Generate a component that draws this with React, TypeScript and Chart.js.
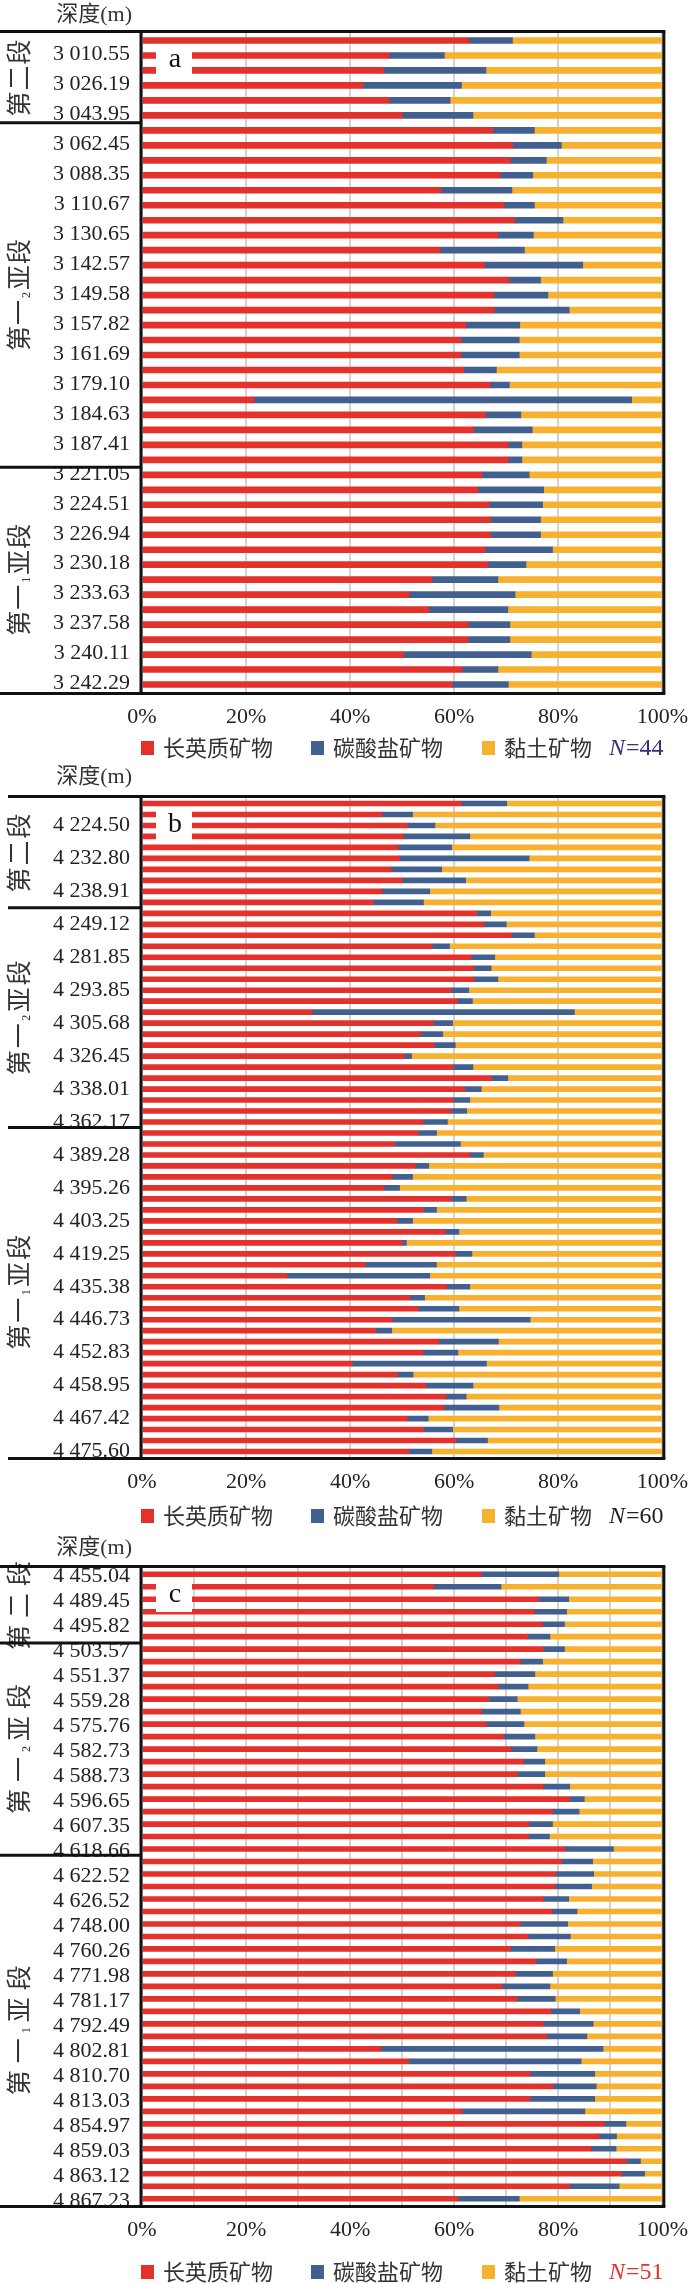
import React, { useEffect, useRef } from 'react';
import { Chart, registerables } from 'chart.js';

Chart.register(...registerables);

// ---------- shared ----------
const SERIES_NAMES = ['长英质矿物', '碳酸盐矿物', '黏土矿物'];
const SERIES_COLORS = ['#e5312b', '#41608f', '#f8b12f'];
const DEPTH_TITLE = '深度(m)';

// ---------- panel a ----------
const DEPTHS_A = ['3 010.55', '3 026.19', '3 043.95', '3 062.45', '3 088.35', '3 110.67', '3 130.65', '3 142.57', '3 149.58', '3 157.82', '3 161.69', '3 179.10', '3 184.63', '3 187.41', '3 221.05', '3 224.51', '3 226.94', '3 230.18', '3 233.63', '3 237.58', '3 240.11', '3 242.29'];
const FELSIC_A = [62.8, 47.5, 46.4, 42.5, 47.5, 50.0, 67.4, 71.2, 70.8, 68.8, 57.4, 69.6, 71.6, 68.4, 57.3, 65.8, 70.5, 67.6, 67.7, 62.2, 61.3, 61.3, 61.8, 66.9, 21.5, 66.0, 63.7, 70.4, 70.4, 65.3, 64.5, 66.7, 67.0, 67.0, 65.9, 66.5, 55.7, 51.3, 55.1, 62.7, 62.7, 50.3, 61.5, 59.6];
const CARB_A = [8.4, 10.6, 19.7, 18.9, 11.7, 13.6, 8.0, 9.4, 6.9, 6.3, 13.7, 5.8, 9.3, 6.8, 16.2, 18.9, 6.1, 10.4, 14.4, 10.4, 11.2, 11.2, 6.3, 3.7, 72.6, 6.8, 11.3, 2.6, 2.6, 9.1, 12.7, 10.3, 9.6, 9.6, 13.0, 7.3, 12.7, 20.4, 15.2, 8.0, 8.0, 24.5, 6.9, 10.8];
const CLAY_A = [28.8, 41.9, 33.9, 38.6, 40.8, 36.4, 24.6, 19.4, 22.3, 24.9, 28.9, 24.6, 19.1, 24.8, 26.5, 15.3, 23.4, 22.0, 17.9, 27.4, 27.5, 27.5, 31.9, 29.4, 5.9, 27.2, 25.0, 27.0, 27.0, 25.6, 22.8, 23.0, 23.4, 23.4, 21.1, 26.2, 31.6, 28.3, 29.7, 29.3, 29.3, 25.2, 31.6, 29.6];
const GROUP_NAMES_A = ['第二段', '第一_2亚段', '第一_1亚段'];
const GROUP_SIZES_A = [6, 23, 15];
const COUNT_A = 'N=44';

// ---------- panel b ----------
const DEPTHS_B = ['4 224.50', '4 232.80', '4 238.91', '4 249.12', '4 281.85', '4 293.85', '4 305.68', '4 326.45', '4 338.01', '4 362.17', '4 389.28', '4 395.26', '4 403.25', '4 419.25', '4 435.38', '4 446.73', '4 452.83', '4 458.95', '4 467.42', '4 475.60'];
const FELSIC_B = [61.3, 46.1, 51.0, 50.2, 49.2, 49.5, 47.9, 50.0, 46.1, 44.4, 64.3, 65.7, 71.0, 55.8, 63.3, 63.7, 63.8, 59.4, 60.6, 32.7, 56.0, 53.5, 56.1, 50.5, 59.8, 67.2, 62.0, 59.8, 59.4, 54.0, 53.1, 48.5, 63.0, 52.5, 48.1, 46.5, 59.4, 54.1, 49.0, 58.3, 50.0, 60.2, 42.9, 27.9, 58.5, 51.5, 53.1, 48.1, 44.9, 57.0, 54.0, 40.4, 49.0, 54.6, 58.4, 58.0, 51.0, 54.1, 60.3, 51.3];
const CARB_B = [8.8, 5.9, 5.3, 12.8, 10.3, 24.9, 9.7, 12.2, 9.2, 9.7, 2.7, 4.3, 4.4, 3.3, 4.5, 3.4, 4.6, 3.4, 2.9, 50.4, 3.7, 4.3, 4.1, 1.3, 3.8, 3.1, 3.2, 3.2, 3.0, 4.7, 3.5, 12.7, 2.6, 2.6, 3.9, 3.0, 2.9, 2.5, 3.0, 2.6, 0.8, 3.2, 13.7, 27.4, 4.5, 2.8, 7.8, 26.5, 3.1, 11.5, 6.7, 25.8, 3.1, 9.0, 3.9, 10.6, 4.0, 5.6, 6.1, 4.4];
const CLAY_B = [29.9, 48.0, 43.7, 37.0, 40.5, 25.6, 42.4, 37.8, 44.7, 45.9, 33.0, 30.0, 24.6, 40.9, 32.2, 32.9, 31.6, 37.2, 36.5, 16.9, 40.3, 42.2, 39.8, 48.2, 36.4, 29.7, 34.8, 37.0, 37.6, 41.3, 43.4, 38.8, 34.4, 44.9, 48.0, 50.5, 37.7, 43.4, 48.0, 39.1, 49.2, 36.6, 43.4, 44.7, 37.0, 45.7, 39.1, 25.4, 52.0, 31.5, 39.3, 33.8, 47.9, 36.4, 37.7, 31.4, 45.0, 40.3, 33.6, 44.3];
const GROUP_NAMES_B = ['第二段', '第一_2亚段', '第一_1亚段'];
const GROUP_SIZES_B = [10, 20, 30];
const COUNT_B = 'N=60';

// ---------- panel c ----------
const DEPTHS_C = ['4 455.04', '4 489.45', '4 495.82', '4 503.57', '4 551.37', '4 559.28', '4 575.76', '4 582.73', '4 588.73', '4 596.65', '4 607.35', '4 618.66', '4 622.52', '4 626.52', '4 748.00', '4 760.26', '4 771.98', '4 781.17', '4 792.49', '4 802.81', '4 810.70', '4 813.03', '4 854.97', '4 859.03', '4 863.12', '4 867.23'];
const FELSIC_C = [65.2, 56.1, 76.2, 75.4, 76.9, 74.1, 77.1, 72.7, 67.7, 68.5, 66.6, 65.2, 66.2, 69.5, 70.8, 73.3, 72.1, 77.1, 82.2, 78.9, 74.4, 74.3, 81.2, 80.6, 79.5, 79.4, 77.2, 78.8, 72.7, 74.2, 70.8, 75.7, 71.8, 69.2, 72.1, 78.6, 77.1, 77.8, 45.9, 51.2, 74.6, 79.0, 74.6, 61.5, 88.8, 87.8, 86.3, 93.1, 92.1, 82.2, 60.8];
const CARB_C = [14.9, 12.9, 5.8, 6.2, 4.3, 4.3, 4.1, 4.3, 7.8, 5.7, 5.5, 7.5, 7.2, 6.0, 5.1, 4.1, 5.3, 5.1, 2.8, 5.1, 4.5, 4.0, 9.4, 6.0, 7.3, 7.0, 4.8, 4.8, 9.1, 8.1, 8.5, 5.9, 7.1, 9.2, 7.3, 5.5, 9.6, 7.7, 42.7, 33.2, 12.4, 8.3, 12.4, 23.6, 4.2, 3.4, 4.8, 2.7, 4.5, 9.5, 11.7];
const CLAY_C = [19.9, 31.0, 18.0, 18.4, 18.8, 21.6, 18.8, 23.0, 24.5, 25.8, 27.9, 27.3, 26.6, 24.5, 24.1, 22.6, 22.6, 17.8, 15.0, 16.0, 21.1, 21.7, 9.4, 13.4, 13.2, 13.6, 18.0, 16.4, 18.2, 17.7, 20.7, 18.4, 21.1, 21.6, 20.6, 15.9, 13.3, 14.5, 11.4, 15.6, 13.0, 12.7, 13.0, 14.9, 7.0, 8.8, 8.9, 4.2, 3.4, 8.3, 27.5];
const GROUP_NAMES_C = ['第二段', '第一_2亚段', '第一_1亚段'];
const GROUP_SIZES_C = [6, 17, 28];
const COUNT_C = 'N=51';

type PanelCfg = {
  tag: string;
  height: number;
  plotTop: number;
  plotBottom: number;
  legendY: number;
  headerY: number;
  barThickness: number;
  depths: string[];
  labelFirst: number;
  labelStep: number;
  labelOffset: number;
  series: number[][];
  groupNames: string[];
  groupSizes: number[];
  groupPitch: number;
  countText: string;
  countColor: string;
  xStep: number;
  frameX0: number;
};

const PANELS: PanelCfg[] = [
  {
    tag: 'a', height: 765, plotTop: 33, plotBottom: 692, legendY: 748, headerY: 15, barThickness: 6,
    depths: DEPTHS_A, labelFirst: 1, labelStep: 2, labelOffset: -1,
    series: [FELSIC_A, CARB_A, CLAY_A], groupNames: GROUP_NAMES_A, groupSizes: GROUP_SIZES_A, groupPitch: 26,
    countText: COUNT_A, countColor: '#3b2d78', xStep: 20, frameX0: 0,
  },
  {
    tag: 'b', height: 770, plotTop: 33, plotBottom: 692, legendY: 751, headerY: 12, barThickness: 5,
    depths: DEPTHS_B, labelFirst: 2, labelStep: 3, labelOffset: 0,
    series: [FELSIC_B, CARB_B, CLAY_B], groupNames: GROUP_NAMES_B, groupSizes: GROUP_SIZES_B, groupPitch: 27,
    countText: COUNT_B, countColor: '#222', xStep: 20, frameX0: 8,
  },
  {
    tag: 'c', height: 749, plotTop: 33, plotBottom: 670, legendY: 737, headerY: 13, barThickness: 5,
    depths: DEPTHS_C, labelFirst: 0, labelStep: 2, labelOffset: 2,
    series: [FELSIC_C, CARB_C, CLAY_C], groupNames: GROUP_NAMES_C, groupSizes: GROUP_SIZES_C, groupPitch: 32,
    countText: COUNT_C, countColor: '#e5312b', xStep: 10, frameX0: 0,
  },
];

const SERIF = '"Liberation Serif", "Times New Roman", serif';
const CJK = '"Noto Sans CJK SC", sans-serif';
const Y_AXIS_W = 142;
const X_AXIS_H = 40;
const RIGHT_PAD = 25;

function drawVertical(ctx: CanvasRenderingContext2D, text: string, cx: number, cy: number, pitch: number) {
  const items: { ch: string; sub: boolean }[] = [];
  for (let i = 0; i < text.length; i++) {
    if (text[i] === '_') { items.push({ ch: text[i + 1], sub: true }); i++; }
    else items.push({ ch: text[i], sub: false });
  }
  const subPitch = 9;
  const total = items.reduce((s, it) => s + (it.sub ? subPitch : pitch), 0);
  ctx.save();
  ctx.translate(cx, cy);
  ctx.rotate(-Math.PI / 2);
  ctx.textAlign = 'center';
  ctx.textBaseline = 'middle';
  ctx.fillStyle = '#333';
  let x = -total / 2;
  for (const it of items) {
    const w = it.sub ? subPitch : pitch;
    if (it.sub) {
      ctx.font = `12px ${SERIF}`;
      ctx.fillText(it.ch, x + w / 2, 9);
    } else {
      ctx.font = `25px ${CJK}`;
      ctx.fillText(it.ch, x + w / 2, 0);
    }
    x += w;
  }
  ctx.restore();
}

function Panel({ cfg }: { cfg: PanelCfg }) {
  const ref = useRef<HTMLCanvasElement>(null);
  useEffect(() => {
    const canvas = ref.current;
    if (!canvas) return;
    const n = cfg.series[0].length;
    const labels = Array.from({ length: n }, (_, i) => {
      const k = i - cfg.labelFirst;
      if (k >= 0 && k % cfg.labelStep === 0) return cfg.depths[k / cfg.labelStep] ?? '';
      return '';
    });

    const framePlugin = {
      id: 'frame',
      afterDraw(chart: any) {
        const ctx: CanvasRenderingContext2D = chart.ctx;
        const ca = chart.chartArea;
        const y = chart.scales.y;
        ctx.save();
        // panel tag box
        ctx.fillStyle = '#fff';
        ctx.fillRect(ca.left + 14, ca.top + 11, 36, 33);
        ctx.fillStyle = '#111';
        ctx.font = `28px ${SERIF}`;
        ctx.textAlign = 'center';
        ctx.textBaseline = 'middle';
        ctx.fillText(cfg.tag, ca.left + 33, ca.top + 27);

        // header
        ctx.font = `22px ${SERIF}, ${CJK}`;
        ctx.fillStyle = '#333';
        ctx.textAlign = 'right';
        ctx.fillText(DEPTH_TITLE, ca.left - 10, cfg.headerY);

        // group labels
        let start = 0;
        cfg.groupSizes.forEach((size, gi) => {
          const p0 = y.getPixelForValue(start);
          const p1 = y.getPixelForValue(start + size - 1);
          drawVertical(ctx, cfg.groupNames[gi], 18, (p0 + p1) / 2, cfg.groupPitch);
          start += size;
        });

        // frame
        ctx.strokeStyle = '#111';
        ctx.lineWidth = 3;
        const yTop = ca.top - 1.5;
        const yBot = ca.bottom + 1.5;
        const line = (x1: number, y1: number, x2: number, y2: number) => {
          ctx.beginPath(); ctx.moveTo(x1, y1); ctx.lineTo(x2, y2); ctx.stroke();
        };
        line(cfg.frameX0, yTop, ca.right + 3, yTop);
        line(cfg.frameX0, yBot, ca.right + 3, yBot);
        line(ca.left - 1, yTop, ca.left - 1, yBot);
        line(ca.right + 1.5, yTop, ca.right + 1.5, yBot);
        let acc = 0;
        for (let g = 0; g < cfg.groupSizes.length - 1; g++) {
          acc += cfg.groupSizes[g];
          const yy = (y.getPixelForValue(acc - 1) + y.getPixelForValue(acc)) / 2;
          line(cfg.frameX0, yy, ca.left, yy);
        }

        // legend
        const ly = cfg.legendY;
        const sqX = [141, 311, 482];
        const txX = [163, 333, 504];
        ctx.textAlign = 'left';
        ctx.textBaseline = 'middle';
        SERIES_NAMES.forEach((name, i) => {
          ctx.fillStyle = SERIES_COLORS[i];
          ctx.fillRect(sqX[i], ly - 7, 13, 14);
          ctx.fillStyle = '#333';
          ctx.font = `22px ${CJK}`;
          ctx.fillText(name, txX[i], ly);
        });
        const [nPart, rest] = cfg.countText.split('=');
        ctx.fillStyle = cfg.countColor;
        ctx.font = `italic 24px ${SERIF}`;
        ctx.fillText(nPart, 609, ly + 1);
        const nw = ctx.measureText(nPart).width;
        ctx.font = `24px ${SERIF}`;
        ctx.fillText('=' + rest, 609 + nw + 1, ly + 1);
        ctx.restore();
      },
    };

    const chart = new Chart(canvas, {
      type: 'bar',
      data: {
        labels,
        datasets: SERIES_NAMES.map((name, i) => ({
          label: name,
          data: cfg.series[i],
          backgroundColor: SERIES_COLORS[i],
          borderWidth: 0,
          barThickness: cfg.barThickness,
        })),
      },
      options: {
        indexAxis: 'y',
        responsive: false,
        animation: false,
        devicePixelRatio: 1,
        layout: {
          padding: {
            top: cfg.plotTop,
            left: 0,
            right: RIGHT_PAD,
            bottom: cfg.height - cfg.plotBottom - X_AXIS_H,
          },
        },
        scales: {
          x: {
            type: 'linear',
            stacked: true,
            min: 0,
            max: 100,
            ticks: {
              stepSize: cfg.xStep,
              autoSkip: false,
              maxRotation: 0,
              minRotation: 0,
              padding: 12,
              color: '#222',
              font: { family: SERIF, size: 22 },
              callback: (v: any) => (Number(v) % 20 === 0 ? `${v}%` : ''),
            },
            grid: { color: '#d2d2d2', lineWidth: 2, drawTicks: false },
            border: { display: false },
            afterFit: (s: any) => { s.height = X_AXIS_H; },
          },
          y: {
            type: 'category',
            stacked: true,
            ticks: {
              autoSkip: false,
              padding: 12,
              labelOffset: cfg.labelOffset,
              color: '#222',
              font: { family: SERIF, size: 22 },
            },
            grid: { display: false, drawTicks: false },
            border: { display: false },
            afterFit: (s: any) => { s.width = Y_AXIS_W; },
          },
        },
        plugins: {
          legend: { display: false },
          tooltip: { enabled: false },
        },
      } as any,
      plugins: [framePlugin],
    });
    return () => chart.destroy();
  }, [cfg]);
  return (
    <canvas
      ref={ref}
      width={700}
      height={cfg.height}
      style={{ display: 'block', width: 700, height: cfg.height }}
    />
  );
}

export default function App() {
  return (
    <div style={{ position: 'absolute', left: 0, top: 0, width: 700, height: 2284, background: '#fff' }}>
      {PANELS.map((p) => (
        <Panel key={p.tag} cfg={p} />
      ))}
    </div>
  );
}
